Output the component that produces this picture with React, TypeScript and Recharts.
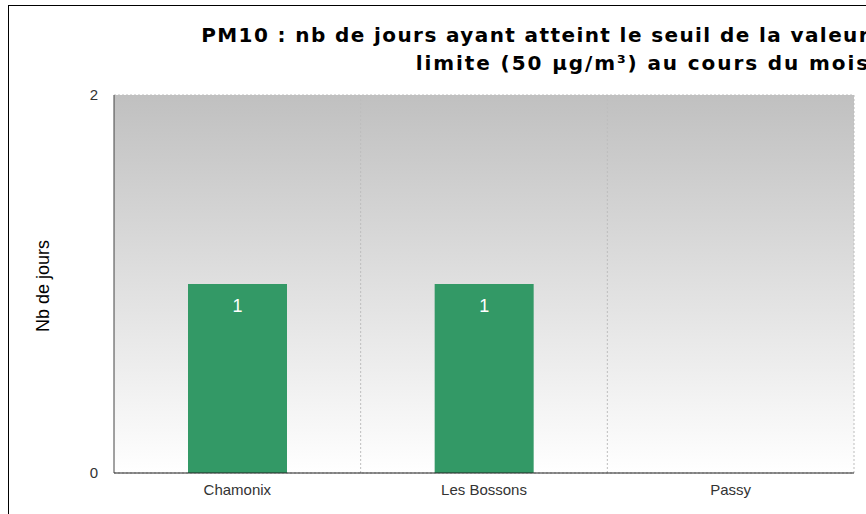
import React from 'react';
import { BarChart, Bar, XAxis, YAxis, CartesianGrid, LabelList, Customized } from 'recharts';

const categories = ['Chamonix', 'Les Bossons', 'Passy'];
const values = [1, 1, 0];
const yTicks = [0, 2];
const titleLines = ['PM10 : nb de jours ayant atteint le seuil de la valeur', 'limite (50 µg/m³) au cours du mois'];
const yLabel = 'Nb de jours';

const data = categories.map((c, i) => ({ name: c, value: values[i] }));

const Title = () => (
  <g>
    <defs>
      <linearGradient id="plotBg" x1="0" y1="0" x2="0" y2="1">
        <stop offset="0%" stopColor="#c0c0c0" />
        <stop offset="100%" stopColor="#ffffff" />
      </linearGradient>
    </defs>
    {titleLines.map((t, i) => (
      <text key={i} x={870} y={42 + i * 28} textAnchor="end" fontFamily="DejaVu Sans" fontWeight="bold" fontSize={20} letterSpacing={i === 0 ? 1.4 : 1.9} fill="#000">
        {t}
      </text>
    ))}
  </g>
);

export default function App() {
  return (
    <div style={{ position: 'absolute', left: 0, top: 0, width: 866, height: 514, overflow: 'hidden', background: '#fff' }}>
      <div style={{ position: 'absolute', left: 8, top: 5, width: 1000, height: 1000, border: '1px solid #000' }} />
      <div style={{ position: 'absolute', left: 0, top: 0 }}>
        <BarChart width={866} height={514} data={data} margin={{ top: 95, right: 12, bottom: 11, left: 54 }} barCategoryGap="30%">
          <Customized component={Title} />
          <CartesianGrid
            fill="url(#plotBg)"
            fillOpacity={1}
            stroke="#bdbdbd"
            strokeDasharray="2 2"
            verticalCoordinatesGenerator={({ offset }: any) =>
              categories.map((_, i) => offset.left + (offset.width * (i + 1)) / categories.length)
            }
          />
          <XAxis
            dataKey="name"
            tickLine={false}
            axisLine={{ stroke: '#222' }}
            height={30}
            tick={{ fill: '#333', fontSize: 15, fontFamily: 'Liberation Sans' }}
            dy={3}
          />
          <YAxis
            domain={[0, 2]}
            ticks={yTicks}
            width={60}
            tickLine={false}
            axisLine={{ stroke: '#444' }}
            tick={{ fill: '#333', fontSize: 15, fontFamily: 'Liberation Sans' }}
            dx={-8}
            label={{ value: yLabel, angle: -90, position: 'center', dx: -41, dy: 2, fill: '#000', fontSize: 18, fontFamily: 'Liberation Sans' }}
          />
          <Bar dataKey="value" fill="#339966" isAnimationActive={false}>
            <LabelList dataKey="value" position="insideTop" offset={15} fill="#fff" fontSize={18} fontFamily="Liberation Sans" formatter={(v: any) => (v ? v : '')} />
          </Bar>
        </BarChart>
      </div>
    </div>
  );
}
